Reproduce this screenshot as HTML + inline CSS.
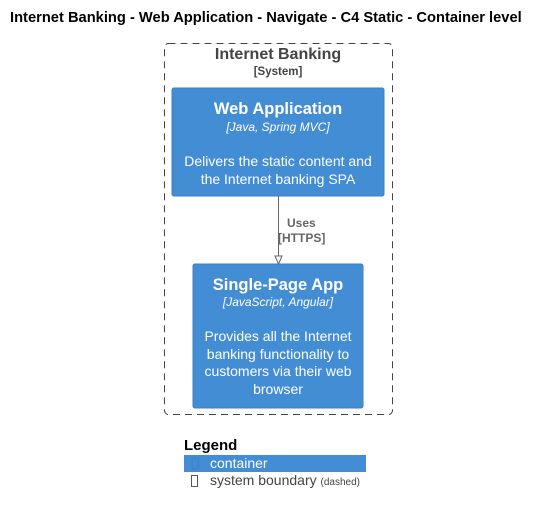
<!DOCTYPE html>
<html><head><meta charset="utf-8"><style>
body{margin:0;width:540px;height:515px;background:#fff;position:relative;font-family:"Liberation Sans",sans-serif;overflow:hidden}
.a{position:absolute;white-space:nowrap}
.c{text-align:center}
</style></head><body>
<svg width="540" height="515" style="position:absolute;left:0;top:0">
<rect x="164.5" y="43.5" width="228" height="371" rx="4" fill="none" stroke="#444" stroke-dasharray="7,5"/>
<rect x="172" y="88" width="212" height="108" rx="2" fill="#438dd5" stroke="#3c7fc0"/>
<rect x="193" y="264" width="170" height="144" rx="2" fill="#438dd5" stroke="#3c7fc0"/>
<line x1="278.5" y1="196" x2="278.5" y2="256" stroke="#666"/>
<polygon points="275,256 282,256 278.5,264" fill="#fff" stroke="#666"/>
<rect x="184" y="455" width="182" height="17" fill="#438dd5"/>
<rect x="192" y="458" width="6" height="11" fill="none" stroke="#3c7fc0"/>
<rect x="191.5" y="475.5" width="6" height="11" fill="none" stroke="#555"/>
</svg>
<div class="a" style="left:10px;top:10px;font-size:14.7px;font-weight:bold;color:#000">Internet Banking - Web Application - Navigate - C4 Static - Container level</div>
<div class="a c" style="left:164px;width:228px;top:46px;font-size:16px;font-weight:bold;color:#444">Internet Banking</div>
<div class="a c" style="left:164px;width:228px;top:66px;font-size:11.5px;font-weight:bold;color:#444">[System]</div>
<div class="a c" style="left:172px;width:212px;top:100px;font-size:16.5px;font-weight:bold;color:#fff">Web Application</div>
<div class="a c" style="left:172px;width:212px;top:120px;font-size:12px;font-style:italic;color:#fff">[Java, Spring MVC]</div>
<div class="a c" style="left:172px;width:212px;top:152px;font-size:14px;line-height:18px;color:#fff;white-space:normal">Delivers the static content and<br>the Internet banking SPA</div>
<div class="a" style="left:287px;top:216px;font-size:12px;font-weight:bold;color:#666">Uses</div>
<div class="a" style="left:278px;top:231px;font-size:12px;font-weight:bold;color:#666">[HTTPS]</div>
<div class="a c" style="left:193px;width:170px;top:276px;font-size:16.5px;font-weight:bold;color:#fff">Single-Page App</div>
<div class="a c" style="left:193px;width:170px;top:295px;font-size:12px;font-style:italic;color:#fff">[JavaScript, Angular]</div>
<div class="a c" style="left:193px;width:170px;top:328px;font-size:14px;line-height:17.7px;color:#fff;white-space:normal">Provides all the Internet<br>banking functionality to<br>customers via their web<br>browser</div>
<div class="a" style="left:184px;top:437px;font-size:15px;font-weight:bold;color:#000">Legend</div>
<div class="a" style="left:210px;top:455px;font-size:14px;color:#fff">container</div>
<div class="a" style="left:210px;top:472px;font-size:14px;color:#444">system boundary <span style="font-size:10px">(dashed)</span></div>
</body></html>
